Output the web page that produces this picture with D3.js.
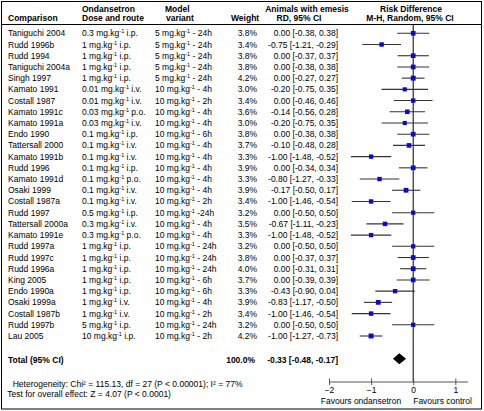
<!DOCTYPE html>
<html><head><meta charset="utf-8">
<script src="https://cdn.jsdelivr.net/npm/d3@7"></script>
<style>
body{margin:0;background:#fff;}
svg text{font-family:"Liberation Sans",Arial,sans-serif;font-size:8.5px;fill:#000;}
.b{font-weight:bold;}
</style></head><body>
<svg id="c" width="484" height="411"></svg>
<script>
const studies = ["Taniguchi 2004","Rudd 1996b","Rudd 1994","Taniguchi 2004a","Singh 1997","Kamato 1991","Costall 1987","Kamato 1991c","Kamato 1991a","Endo 1990","Tattersall 2000","Kamato 1991b","Rudd 1996","Kamato 1991d","Osaki 1999","Costall 1987a","Rudd 1997","Tattersall 2000a","Kamato 1991e","Rudd 1997a","Rudd 1997c","Rudd 1996a","King 2005","Endo 1990a","Osaki 1999a","Costall 1987b","Rudd 1997b","Lau 2005"];
const doseAmount = ["0.3","1","1","1","1","0.01","0.01","0.03","0.03","0.1","0.1","0.1","0.1","0.1","0.1","0.1","0.5","0.3","0.3","1","1","1","1","1","1","1","5","10"];
const doseRoute = ["i.p.","i.p.","i.p.","i.p.","i.p.","i.v.","i.v.","p.o.","i.v.","i.p.","i.v.","i.v.","i.p.","p.o.","i.v.","i.v.","i.p.","i.v.","p.o.","i.p.","i.p.","i.p.","i.p.","i.p.","i.v.","i.v.","i.p.","i.p."];
const modelDose = ["5","5","5","5","5","10","10","10","10","10","10","10","10","10","10","10","10","10","10","10","10","10","10","10","10","10","10","10"];
const modelTime = ["- 24h","- 24h","- 24h","- 24h","- 24h","- 4h","- 2h","- 4h","- 4h","- 6h","- 4h","- 4h","- 4h","- 4h","- 4h","- 2h","-24h","- 4h","- 4h","- 24h","- 24h","- 24h","- 6h","- 6h","- 4h","- 2h","- 24h","- 2h"];
const weights = [3.8,3.4,3.8,3.8,4.2,3.0,3.4,3.6,3.0,3.8,3.7,3.3,3.9,3.3,3.9,3.4,3.2,3.5,3.3,3.2,3.8,4.0,3.7,3.3,3.9,3.4,3.2,4.2];
const rd = [0.00,-0.75,0.00,0.00,0.00,-0.20,0.00,-0.14,-0.20,0.00,-0.10,-1.00,0.00,-0.80,-0.17,-1.00,0.00,-0.67,-1.00,0.00,0.00,0.00,0.00,-0.43,-0.83,-1.00,0.00,-1.00];
const lower = [-0.38,-1.21,-0.37,-0.38,-0.27,-0.75,-0.46,-0.56,-0.75,-0.38,-0.48,-1.48,-0.34,-1.27,-0.50,-1.46,-0.50,-1.11,-1.48,-0.50,-0.37,-0.31,-0.39,-0.90,-1.17,-1.46,-0.50,-1.27];
const upper = [0.38,-0.29,0.37,0.38,0.27,0.35,0.46,0.28,0.35,0.38,0.28,-0.52,0.34,-0.33,0.17,-0.54,0.50,-0.23,-0.52,0.50,0.37,0.31,0.39,0.04,-0.50,-0.54,0.50,-0.73];
const total = {label:"Total (95% CI)", weight:"100.0%", rd:-0.33, lower:-0.48, upper:-0.17};
const tickValues = [-2,-1,0,1];
const axisLabels = ["Favours ondansetron","Favours control"];
const heterogeneity = "Heterogeneity: Chi² = 115.13, df = 27 (P < 0.00001); I² = 77%";
const overallTest = "Test for overall effect: Z = 4.07 (P < 0.0001)";

const svg = d3.select("#c");
const f2 = d3.format(".2f");
const fmt = v => (v < 0 ? "-" : "") + f2(Math.abs(v));
const ciText = (m,l,u) => `${fmt(m)} [${fmt(l)}, ${fmt(u)}]`;

const x = d3.scaleLinear().domain([-2, 1]).range([329, 455.3]);
const y = d3.scaleLinear().domain([0, studies.length - 1]).range([33.3, 336]);
const side = d3.scaleSqrt().domain([0, 4]).range([0, 4.8]);

// frame
svg.append("rect").attr("x",1.5).attr("y",1.5).attr("width",480).attr("height",407.5)
  .attr("fill","none").attr("stroke","#000").attr("stroke-width",1);
svg.append("line").attr("x1",1.5).attr("x2",481.5).attr("y1",24.5).attr("y2",24.5).attr("stroke","#000");

// headers
const hdr = [
  {t:"Comparison",x:8,y:20.5,a:"start"},
  {t:"Ondansetron",x:82,y:11.5,a:"start"},
  {t:"Dose and route",x:82,y:20.5,a:"start"},
  {t:"Model",x:165,y:11.5,a:"start"},
  {t:"variant",x:166,y:20.5,a:"start"},
  {t:"Weight",x:231,y:20.5,a:"start"},
  {t:"Animals with emesis",x:307,y:11.5,a:"middle"},
  {t:"RD, 95% CI",x:299,y:20.5,a:"middle"},
  {t:"Risk Difference",x:411,y:11.5,a:"middle"},
  {t:"M-H, Random, 95% CI",x:410,y:20.5,a:"middle"}
];
svg.selectAll("text.h").data(hdr).enter().append("text").attr("class","h b")
  .attr("x",d=>d.x).attr("y",d=>d.y).attr("text-anchor",d=>d.a).text(d=>d.t);

// zero line
svg.append("line").attr("x1",x(0)).attr("x2",x(0)).attr("y1",25).attr("y2",382)
  .attr("stroke","#000").attr("stroke-width",1);

const rows = svg.selectAll("g.row").data(studies.map((s,i)=>i)).enter().append("g").attr("class","row");
rows.append("text").attr("x",8).attr("y",i=>y(i)+3).text(i=>studies[i]);

function mgkg(sel, amount, suffix){
  sel.append("tspan").text(amount + " mg.kg");
  sel.append("tspan").attr("dy",-3).style("font-size","5.5px").text("-1");
  sel.append("tspan").attr("dy",3).text(suffix);
}
rows.append("text").attr("x",82).attr("y",i=>y(i)+3).each(function(i){
  mgkg(d3.select(this), doseAmount[i], " " + doseRoute[i]);
});
rows.append("text").attr("x",155).attr("y",i=>y(i)+3).each(function(i){
  mgkg(d3.select(this), modelDose[i], " " + modelTime[i]);
});
rows.append("text").attr("x",257).attr("y",i=>y(i)+3).attr("text-anchor","end").text(i=>f2(weights[i]).slice(0,-1)+"%");
rows.append("text").attr("x",338).attr("y",i=>y(i)+3).attr("text-anchor","end").text(i=>ciText(rd[i],lower[i],upper[i]));
rows.append("line").attr("x1",i=>x(lower[i])).attr("x2",i=>x(upper[i]))
  .attr("y1",i=>y(i)).attr("y2",i=>y(i)).attr("stroke","#333").attr("stroke-width",1.1);
rows.append("rect")
  .attr("x",i=>x(rd[i])-side(weights[i])/2).attr("y",i=>y(i)-side(weights[i])/2)
  .attr("width",i=>side(weights[i])).attr("height",i=>side(weights[i]))
  .attr("fill","#0a0ac8");

// total row
const ty = 360.3;
svg.append("text").attr("class","b").attr("x",8).attr("y",ty+3).text(total.label);
svg.append("text").attr("class","b").attr("x",255).attr("y",ty+3).attr("text-anchor","end").text(total.weight);
svg.append("text").attr("class","b").attr("x",338).attr("y",ty+3).attr("text-anchor","end").text(ciText(total.rd,total.lower,total.upper));
const dy = ty - 1.5;
svg.append("path").attr("d",`M${x(total.lower)},${dy} L${x(total.rd)},${dy-5.5} L${x(total.upper)},${dy} L${x(total.rd)},${dy+5.5} Z`).attr("fill","#000");

// footer text
svg.append("text").attr("x",12.7).attr("y",386.5).text(heterogeneity);
svg.append("text").attr("x",7.3).attr("y",396.5).text(overallTest);

// axis
const axY = 382;
const ax = svg.append("g").attr("transform",`translate(0,${axY})`)
  .call(d3.axisBottom(x).tickValues(tickValues).tickFormat(d3.format("d")).tickSizeOuter(0).tickSize(3));
ax.select(".domain").remove();
ax.selectAll(".tick line").attr("y1",-3.5).attr("y2",3).attr("stroke","#555");
ax.selectAll(".tick text").attr("y",11).attr("dy",0).style("font-size","8.5px").style("font-family","Liberation Sans, Arial, sans-serif").attr("fill","#000");
svg.append("line").attr("x1",x(-2)).attr("x2",x(1.3)).attr("y1",axY).attr("y2",axY).attr("stroke","#555").attr("stroke-width",1.2);
svg.append("text").attr("x",361).attr("y",403.5).attr("text-anchor","middle").text(axisLabels[0]);
svg.append("text").attr("x",442.5).attr("y",403.5).attr("text-anchor","middle").text(axisLabels[1]);
</script>
</body></html>
